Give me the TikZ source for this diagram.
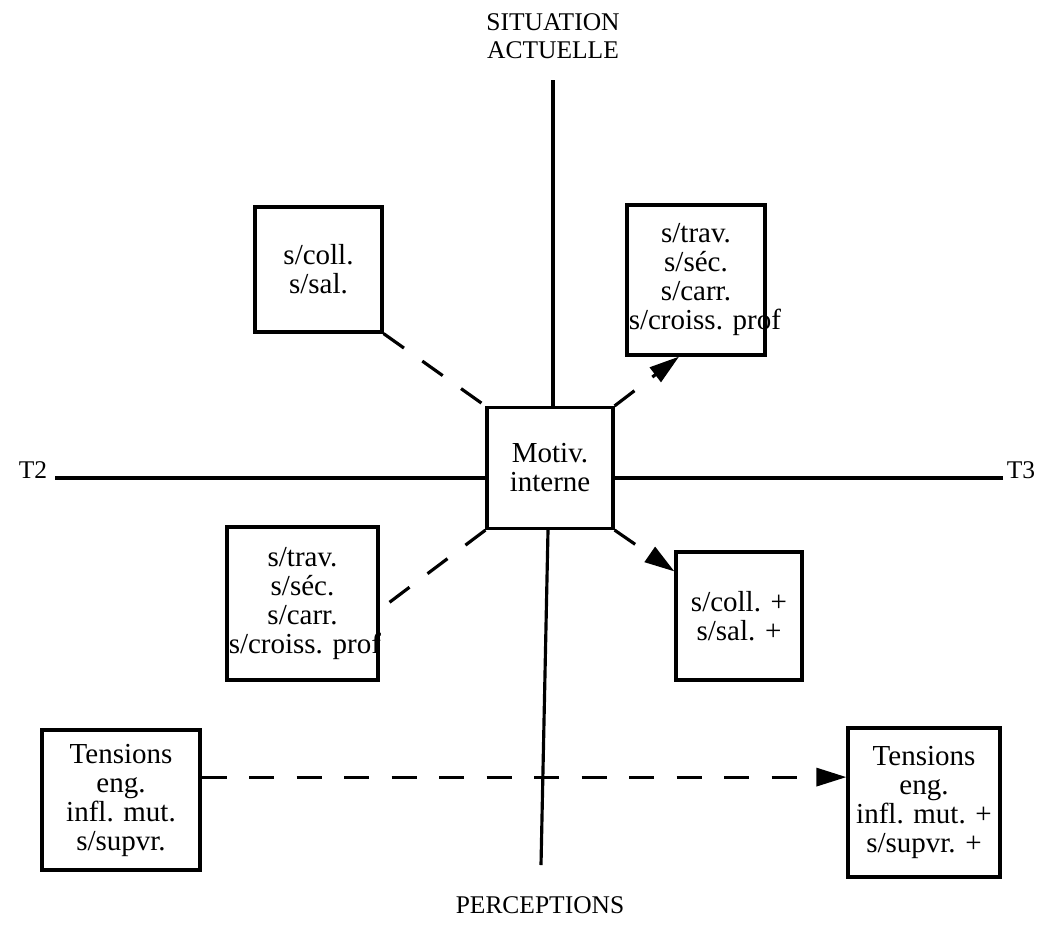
\documentclass[tikz,border=0pt]{standalone}
\usepackage{fontspec}
\setmainfont{Liberation Serif}
\usetikzlibrary{calc,arrows.meta}
\frenchspacing

\newcommand{\cadrefont}{\fontsize{16.5}{16.5}\selectfont}
\newcommand{\axefont}{\fontsize{14.5}{16}\selectfont}

\begin{document}
\begin{tikzpicture}[x=0.2mm,y=-0.2mm,
    trait/.style={line width=1.8pt},
    carre/.style={draw,line width=1.8pt,align=center,inner xsep=1pt,font=\cadrefont},
    lien/.style={line width=1.8pt,dash pattern=on 5mm off 4.5mm},
    fleche/.style={lien,-{Triangle[length=6mm,width=3.6mm]}}]
                % 定义边界
                \useasboundingbox (0,0) rectangle (1044,930);

                % 中心方框
                \node[carre,minimum width=25.2mm,minimum height=24.2mm] (motiv) at (550,468) {Motiv.\\interne};

                % 绘制轴
                \coordinate (haut) at (553,80);
                \coordinate (bas) at (541,865);
                \coordinate (gauche) at (55,478);
                \coordinate (droite) at (1003,478);
                \draw[trait] (haut) -- (haut |- motiv.north);
                \draw[trait] (bas) -- (548,0 |- motiv.south);
                \draw[trait] (gauche) -- (gauche -| motiv.west);
                \draw[trait] (droite) -- (droite -| motiv.east);

                % 轴的标注
                \node[font=\axefont,align=center] (situation) at (553,36) {SITUATION\\ACTUELLE};
                \node[font=\axefont] (perceptions) at (540,905) {PERCEPTIONS};
                \node[font=\axefont] (t2) at (33,470) {T2};
                \node[font=\axefont] (t3) at (1021,470) {T3};

                % 四个象限的方框
                \node[carre,text width=25.4mm-2pt,minimum height=25mm] (collA) at (318.5,269.5) {s/coll.\\s/sal.};
                \node[carre,text width=27.6mm-2pt,minimum height=30mm] (travA) at (696,280) {s/trav.\\s/séc.\\s/carr.\\s/croiss.~prof};
                \node[carre,text width=30.2mm-2pt,minimum height=30.6mm] (travB) at (302.5,603.5) {s/trav.\\s/séc.\\s/carr.\\s/croiss.~prof};
                \node[carre,text width=25.2mm-2pt,minimum height=25.6mm] (collB) at (739,616) {s/coll. +\\s/sal. +};

                % 底部的方框
                \node[carre,text width=31.6mm-2pt,minimum height=28mm] (tensA) at (121,800) {Tensions\\eng.\\infl. mut.\\s/supvr.};
                \node[carre,text width=30.4mm-2pt,minimum height=29.8mm] (tensB) at (924,802.5) {Tensions\\eng.\\infl. mut. +\\s/supvr. +};

                % 虚线连接
                \draw[lien] (collA.south east) -- (motiv.north west);
                \draw[fleche] (motiv.north east) -- ($(travA.south west)!0.38!(travA.south east)$);
                \draw[lien] (motiv.south west) -- ($(travB.north east)!0.54!(travB.south east)$);
                \draw[fleche] (motiv.south east) -- ($(collB.north west)!0.16!(collB.south west)$);
                \coordinate (depart) at ($(tensA.north east)!0.34!(tensA.south east)$);
                \draw[fleche] (depart) -- (depart -| tensB.west);
            \end{tikzpicture}
\end{document}
